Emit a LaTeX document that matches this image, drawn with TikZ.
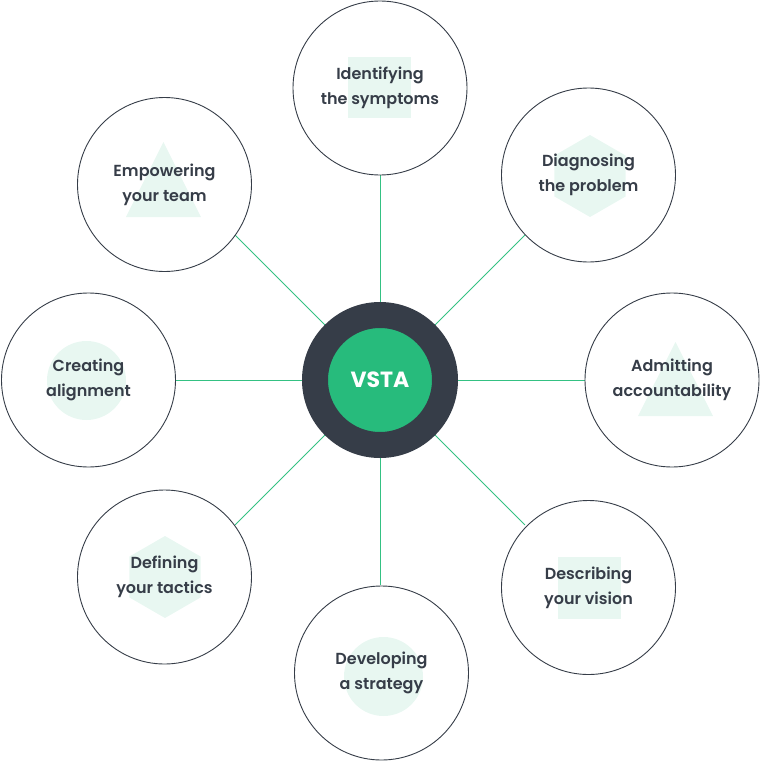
\documentclass[tikz,border=0pt]{standalone}
\usepackage{fontspec}
\setmainfont{Poppins}
\newfontfamily\lblfont{Poppins SemiBold}
\usetikzlibrary{calc}
\definecolor{slate}{HTML}{363D48}
\definecolor{vgreen}{HTML}{27BB7C}
\definecolor{mint}{HTML}{E8F7F1}
\definecolor{link}{HTML}{34C183}
\tikzset{
  topic/.style={circle, draw=slate, line width=0.9pt, minimum size=174pt, inner sep=0pt,
    align=center, text=slate, font=\lblfont\fontsize{16}{25}\selectfont},
  hub/.style={circle, draw=slate, fill=vgreen, line width=26pt, minimum size=130pt, inner sep=0pt,
    text=white, font=\bfseries\fontsize{22}{26}\selectfont},
  spoke/.style={draw=link, line width=0.9pt}
}
\begin{document}
\begin{tikzpicture}[x=1pt,y=1pt]
\useasboundingbox (-380,-381) rectangle (382,380);
%подложки
\fill[mint] (-32,262) rectangle (31,323); %квадрат
\fill[mint] (210,204) +(90:41) -- +(150:41) -- +(210:41) -- +(270:41) -- +(330:41) -- +(30:41) -- cycle; %шестиугольник
\fill[mint] (295.5,38) -- (258,-36) -- (333,-36) -- cycle; %треугольник
\fill[mint] (178,-177) rectangle (241,-239);
\fill[mint] (3.5,-296.5) circle (39.5);
\fill[mint] (-215,-197) +(90:41) -- +(150:41) -- +(210:41) -- +(270:41) -- +(330:41) -- +(30:41) -- cycle;
\fill[mint] (-293.5,-0.5) circle (39.5);
\fill[mint] (-216.5,238) -- (-254,163) -- (-179,163) -- cycle;
%лучи
\coordinate (c) at (0,0);
\foreach \a/\n in {90/sym,45/diag,0/adm,-45/desc,-90/dev,-135/def,180/cre,135/emp}
  \coordinate (e\n) at ($(c)+(\a:205)$);
\foreach \n in {sym,diag,adm,desc,dev,def,cre,emp}
  \draw[spoke] (c) -- (e\n);
%центр
\node[hub] (vsta) at (c) {VSTA};
%круги
\node[topic] (sym) at (0,292) {Identifying\\the symptoms};
\node[topic] (diag) at (208.5,205) {Diagnosing\\the problem};
\node[topic] (adm) at (292,0) {Admitting\\accountability};
\node[topic] (desc) at (208.5,-207.5) {Describing\\your vision};
\node[topic] (dev) at (1.5,-293) {Developing\\a strategy};
\node[topic] (def) at (-215.5,-197) {Defining\\your tactics};
\node[topic] (cre) at (-291.5,0) {Creating\\alignment};
\node[topic] (emp) at (-215.5,195.5) {Empowering\\your team};
\end{tikzpicture}
\end{document}
